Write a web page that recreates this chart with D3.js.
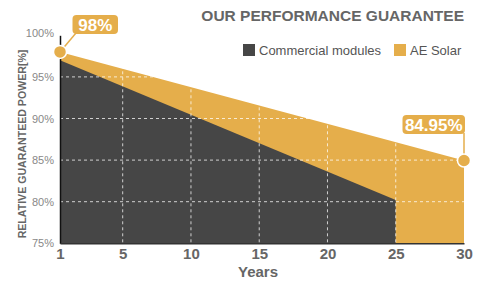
<!DOCTYPE html>
<html>
<head>
<meta charset="utf-8">
<script src="https://d3js.org/d3.v7.min.js"></script>
<style>
  body { margin: 0; background: #fff; }
  svg text { font-family: "Liberation Sans", Arial, sans-serif; }
</style>
</head>
<body>
<svg id="chart" width="479" height="282"></svg>
<script>
// data
var years = [1, 5, 10, 15, 20, 25, 30];
var yTicks = [75, 80, 85, 90, 95, 100];
var commercialYears = [1, 25];
var commercialValues = [97, 80.2];
var aeYears = [1, 30];
var aeValues = [98, 84.95];
var seriesNames = ["Commercial modules", "AE Solar"];
var seriesColors = ["#464646", "#e5ae4b"];

var svg = d3.select("#chart");

// the "1" tick sits at the very left edge, the rest are evenly spaced
var x = d3.scaleLinear().domain([1, 5, 30]).range([60, 122.7, 464]);
var y = d3.scaleLinear().domain([75, 100]).range([243.3, 35.3]);

var ae = aeYears.map(function (d, i) { return {x: d, y: aeValues[i]}; });
var com = commercialYears.map(function (d, i) { return {x: d, y: commercialValues[i]}; });

var area = d3.area()
    .x(function (d) { return x(d.x); })
    .y0(y(75))
    .y1(function (d) { return y(d.y); });

svg.append("path").datum(ae).attr("d", area).attr("fill", seriesColors[1]);
svg.append("path").datum(com).attr("d", area).attr("fill", seriesColors[0]);

// grid
var grid = svg.append("g");
grid.selectAll(".hg")
    .data(yTicks.filter(function (d) { return d > 75 && d < 100; }))
    .enter().append("line")
    .attr("x1", x(1)).attr("x2", x(30))
    .attr("y1", function (d) { return y(d); })
    .attr("y2", function (d) { return y(d); });
grid.selectAll(".vg")
    .data(years.filter(function (d) { return d > 1 && d < 30; }))
    .enter().append("line")
    .attr("x1", function (d) { return x(d); })
    .attr("x2", function (d) { return x(d); })
    .attr("y1", y(100)).attr("y2", y(75));
grid.selectAll("line")
    .attr("stroke", "rgba(255,255,255,0.75)")
    .attr("stroke-width", 1)
    .attr("stroke-dasharray", "3,3");

// axes
var yAxis = d3.axisLeft(y).tickValues(yTicks).tickSize(0).tickPadding(6)
    .tickFormat(function (d) { return d + "%"; });
var gy = svg.append("g").attr("transform", "translate(" + x(1) + ",0)").call(yAxis);
gy.select(".domain").attr("stroke", "#111").attr("stroke-width", 1.5);
gy.selectAll("text")
    .attr("fill", "#888")
    .style("font-size", "11px")
    .attr("dy", function (d) { return d === 100 ? "0.1em" : "0.32em"; });

var xAxis = d3.axisBottom(x).tickValues(years).tickSize(0).tickPadding(5);
var gx = svg.append("g").attr("transform", "translate(0," + y(75) + ")").call(xAxis);
gx.select(".domain").attr("stroke", "#333").attr("stroke-width", 1.5);
gx.selectAll("text")
    .attr("fill", "#666")
    .style("font-size", "15px")
    .style("font-weight", "bold");

svg.append("text")
    .attr("x", 258).attr("y", 277)
    .attr("text-anchor", "middle")
    .attr("fill", "#666")
    .style("font-size", "15px")
    .style("font-weight", "bold")
    .text("Years");

svg.append("text")
    .attr("transform", "translate(26,144) rotate(-90)")
    .attr("text-anchor", "middle")
    .attr("fill", "#666")
    .style("font-size", "10.6px")
    .style("font-weight", "bold")
    .text("RELATIVE GUARANTEED POWER[%]");

// title + legend
svg.append("text")
    .attr("x", 464).attr("y", 21)
    .attr("text-anchor", "end")
    .attr("fill", "#666")
    .style("font-size", "15.5px")
    .style("font-weight", "bold")
    .text("OUR PERFORMANCE GUARANTEE");

var legendX = [243, 394];
seriesNames.forEach(function (name, i) {
  svg.append("rect")
      .attr("x", legendX[i]).attr("y", 44)
      .attr("width", 12).attr("height", 12)
      .attr("fill", seriesColors[i]);
  svg.append("text")
      .attr("x", legendX[i] + 16).attr("y", 55)
      .attr("fill", "#555")
      .style("font-size", "13px")
      .text(name);
});

// callouts
function callout(px, py, bx, by, bw, label, lx1, ly1) {
  var c = svg.append("g");
  c.append("line")
      .attr("x1", lx1).attr("y1", ly1).attr("x2", px).attr("y2", py)
      .attr("stroke", seriesColors[1]).attr("stroke-width", 1.5);
  c.append("rect")
      .attr("x", bx).attr("y", by).attr("width", bw).attr("height", 19)
      .attr("rx", 4).attr("fill", seriesColors[1]);
  c.append("text")
      .attr("x", bx + bw / 2).attr("y", by + 16)
      .attr("text-anchor", "middle")
      .attr("fill", "#fff")
      .style("font-size", "17px")
      .style("font-weight", "bold")
      .text(label);
  c.append("circle")
      .attr("cx", px).attr("cy", py).attr("r", 6.5)
      .attr("fill", seriesColors[1]).attr("stroke", "#fff").attr("stroke-width", 1.5);
}
var first = ae[0], last = ae[ae.length - 1];
callout(x(first.x), y(first.y), 72.5, 15, 45.5, first.y + "%", 76, 33);
callout(x(last.x), y(last.y), 402.5, 115, 62.5, last.y + "%", x(last.x), 133);
</script>
</body>
</html>
